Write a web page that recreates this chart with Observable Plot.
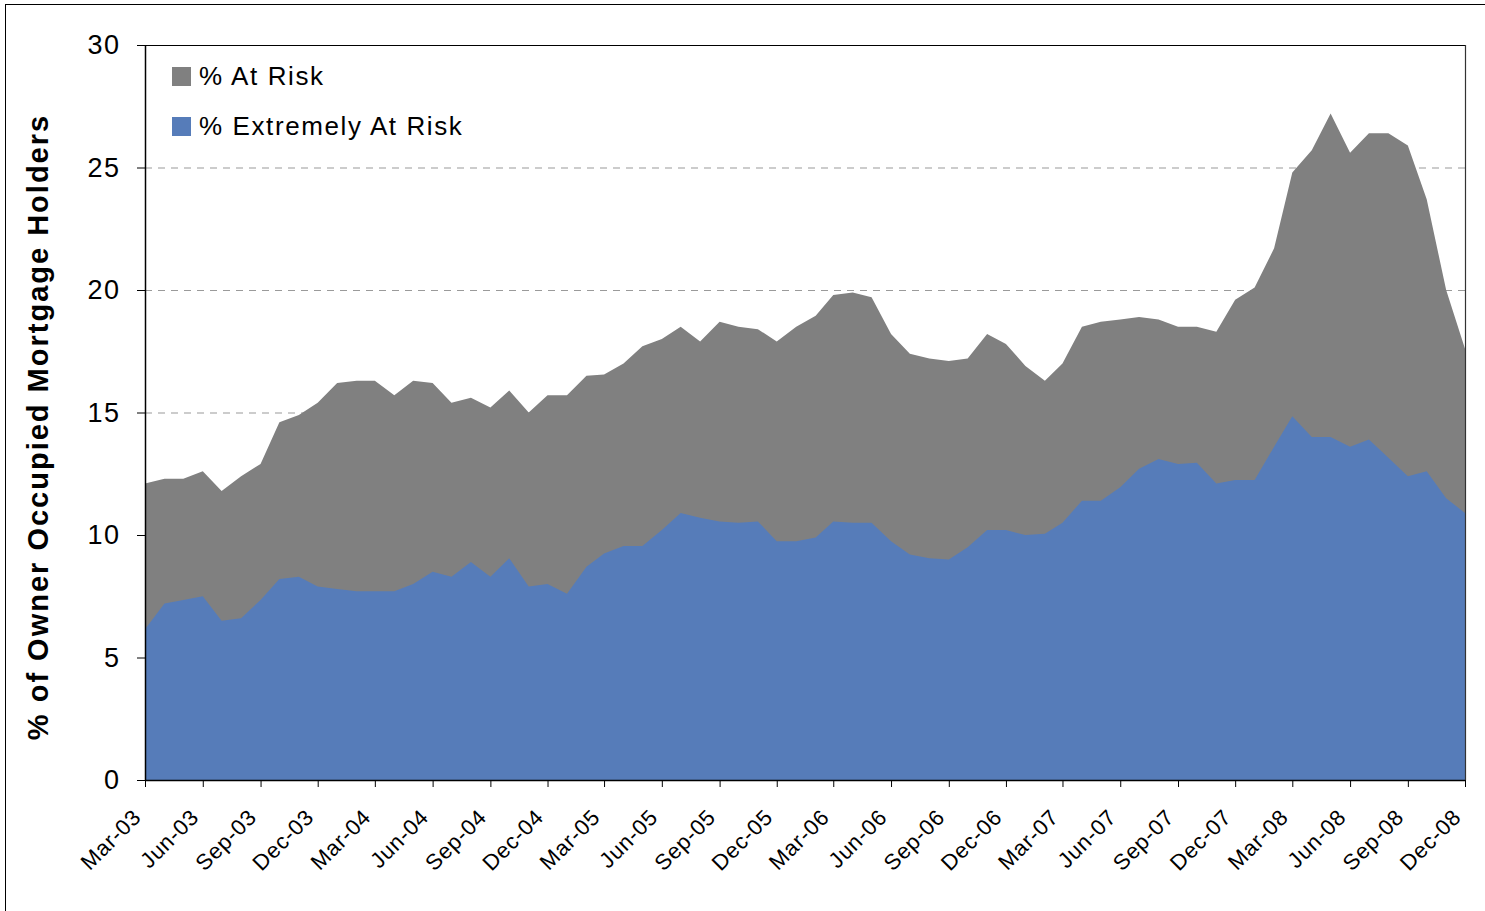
<!DOCTYPE html>
<html>
<head>
<meta charset="utf-8">
<script src="https://cdn.jsdelivr.net/npm/d3@7"></script>
<script src="https://cdn.jsdelivr.net/npm/@observablehq/plot@0.6"></script>
<style>
  body { margin: 0; background: #fff; font-family: Arial, "Liberation Sans", sans-serif; }
  #wrap { position: relative; width: 1485px; height: 911px; overflow: hidden; background: #fff; }
  #border { position: absolute; left: 5px; top: 4px; right: -10px; bottom: -10px; border-left: 1.5px solid #000; border-top: 1.5px solid #000; pointer-events: none; }
  #legend { position: absolute; left: 172px; top: 62px; font-family: Arial, "Liberation Sans", sans-serif; font-size: 26px; letter-spacing: 1.6px; color: #000; }
  #legend .row { display: flex; align-items: center; height: 29px; margin-bottom: 21px; }
  #legend .sw { width: 19px; height: 19px; margin-right: 8px; }
  svg [aria-label="y-axis tick label"] text { letter-spacing: 1.5px; }
  svg [aria-label="x-axis tick label"] text { letter-spacing: 0.8px; }
</style>
</head>
<body>
<div id="wrap">
  <div id="chart"></div>
  <div id="legend"></div>
  <div id="border"></div>
</div>
<script>
// Months (categories)
const months = [
  "Mar-03","Apr-03","May-03","Jun-03","Jul-03","Aug-03","Sep-03","Oct-03","Nov-03","Dec-03",
  "Jan-04","Feb-04","Mar-04","Apr-04","May-04","Jun-04","Jul-04","Aug-04","Sep-04","Oct-04","Nov-04","Dec-04",
  "Jan-05","Feb-05","Mar-05","Apr-05","May-05","Jun-05","Jul-05","Aug-05","Sep-05","Oct-05","Nov-05","Dec-05",
  "Jan-06","Feb-06","Mar-06","Apr-06","May-06","Jun-06","Jul-06","Aug-06","Sep-06","Oct-06","Nov-06","Dec-06",
  "Jan-07","Feb-07","Mar-07","Apr-07","May-07","Jun-07","Jul-07","Aug-07","Sep-07","Oct-07","Nov-07","Dec-07",
  "Jan-08","Feb-08","Mar-08","Apr-08","May-08","Jun-08","Jul-08","Aug-08","Sep-08","Oct-08","Nov-08","Dec-08"
];

// % At Risk
const atRisk = [
  12.1, 12.3, 12.3, 12.6, 11.8, 12.4, 12.9, 14.6, 14.9, 15.4,
  16.2, 16.3, 16.3, 15.7, 16.3, 16.2, 15.4, 15.6, 15.2, 15.9, 15.0, 15.7,
  15.7, 16.5, 16.55, 17.0, 17.7, 18.0, 18.5, 17.9, 18.7, 18.5, 18.4, 17.9,
  18.5, 18.95, 19.8, 19.9, 19.7, 18.2, 17.4, 17.2, 17.1, 17.2, 18.2, 17.8,
  16.9, 16.3, 17.0, 18.5, 18.7, 18.8, 18.9, 18.8, 18.5, 18.5, 18.3, 19.6,
  20.1, 21.7, 24.8, 25.7, 27.2, 25.6, 26.4, 26.4, 25.9, 23.7, 20.0, 17.6
];

// % Extremely At Risk
const extremelyAtRisk = [
  6.15, 7.2, 7.35, 7.5, 6.5, 6.6, 7.35, 8.2, 8.3, 7.9,
  7.8, 7.7, 7.7, 7.7, 8.0, 8.5, 8.3, 8.9, 8.3, 9.05, 7.9, 8.0,
  7.6, 8.7, 9.25, 9.55, 9.55, 10.2, 10.9, 10.7, 10.55, 10.5, 10.55, 9.75,
  9.75, 9.9, 10.55, 10.5, 10.5, 9.75, 9.2, 9.05, 9.0, 9.5, 10.2, 10.2,
  10.0, 10.05, 10.5, 11.4, 11.4, 11.95, 12.7, 13.1, 12.9, 12.95, 12.1, 12.25,
  12.25, 13.6, 14.85, 14.0, 14.0, 13.6, 13.9, 13.15, 12.4, 12.6, 11.5, 10.9
];

// x tick labels (quarterly)
const tickLabels = [
  "Mar-03","Jun-03","Sep-03","Dec-03","Mar-04","Jun-04","Sep-04","Dec-04",
  "Mar-05","Jun-05","Sep-05","Dec-05","Mar-06","Jun-06","Sep-06","Dec-06",
  "Mar-07","Jun-07","Sep-07","Dec-07","Mar-08","Jun-08","Sep-08","Dec-08"
];
const yTicks = [0, 5, 10, 15, 20, 25, 30];
const gridValues = [5, 10, 15, 20, 25];
const yTitle = "% of Owner Occupied Mortgage Holders";

const seriesNames = ["% At Risk", "% Extremely At Risk"];
const colors = ["#808080", "#567cb9"];

const parse = d3.utcParse("%b-%y");
const fmt = d3.utcFormat("%b-%y");
const data = months.map((m, i) => ({ date: parse(m), atRisk: atRisk[i], extreme: extremelyAtRisk[i] }));
const tickDates = tickLabels.map(parse);

const chart = Plot.plot({
  width: 1485,
  height: 911,
  marginLeft: 145,
  marginRight: 20,
  marginTop: 45,
  marginBottom: 131,
  style: { fontFamily: "Arial, 'Liberation Sans', sans-serif", background: "#fff", color: "#000" },
  x: { type: "utc", domain: [data[0].date, data[data.length - 1].date] },
  y: { domain: [0, 30] },
  marks: [
    Plot.gridY(gridValues, { stroke: "#9a9a9a", strokeOpacity: 1, strokeDasharray: "7,6", strokeWidth: 1.2 }),
    Plot.areaY(data, { x: "date", y: "atRisk", fill: colors[0] }),
    Plot.areaY(data, { x: "date", y: "extreme", fill: colors[1] }),
    Plot.ruleX([data[0].date], { stroke: "#000", strokeWidth: 1.5 }),
    Plot.ruleY([0], { stroke: "#000", strokeWidth: 1.5 }),
    Plot.ruleY([30], { stroke: "#000", strokeWidth: 1.2 }),
    Plot.ruleX([data[data.length - 1].date], { stroke: "#333", strokeWidth: 1.2 }),
    Plot.axisY({
      ticks: yTicks, tickSize: 8, tickPadding: 17, fontSize: 27, label: null
    }),
    Plot.text([yTitle], {
      frameAnchor: "left", textAnchor: "middle", rotate: -90, dx: -107, dy: 14,
      fontSize: 29, fontWeight: "bold", fill: "#000"
    }),
    Plot.axisX({
      ticks: tickDates, tickSize: 7, tickFormat: () => "", label: null
    }),
    Plot.axisX({
      ticks: tickDates, tickFormat: fmt, tickRotate: -45, tickSize: 0, tickPadding: 33, dx: -8, fontSize: 22, label: null
    })
  ]
});
document.getElementById("chart").appendChild(chart);
// wide letter spacing for the rotated y title, as in the reference
d3.select(chart).selectAll("text")
  .filter(function () { return this.textContent === yTitle; })
  .attr("letter-spacing", "2px")
  .style("letter-spacing", "2px");

const legend = document.getElementById("legend");
seriesNames.forEach((name, i) => {
  const row = document.createElement("div");
  row.className = "row";
  const sw = document.createElement("div");
  sw.className = "sw";
  sw.style.background = colors[i];
  const t = document.createElement("span");
  t.textContent = name;
  row.appendChild(sw);
  row.appendChild(t);
  legend.appendChild(row);
});
</script>
</body>
</html>
